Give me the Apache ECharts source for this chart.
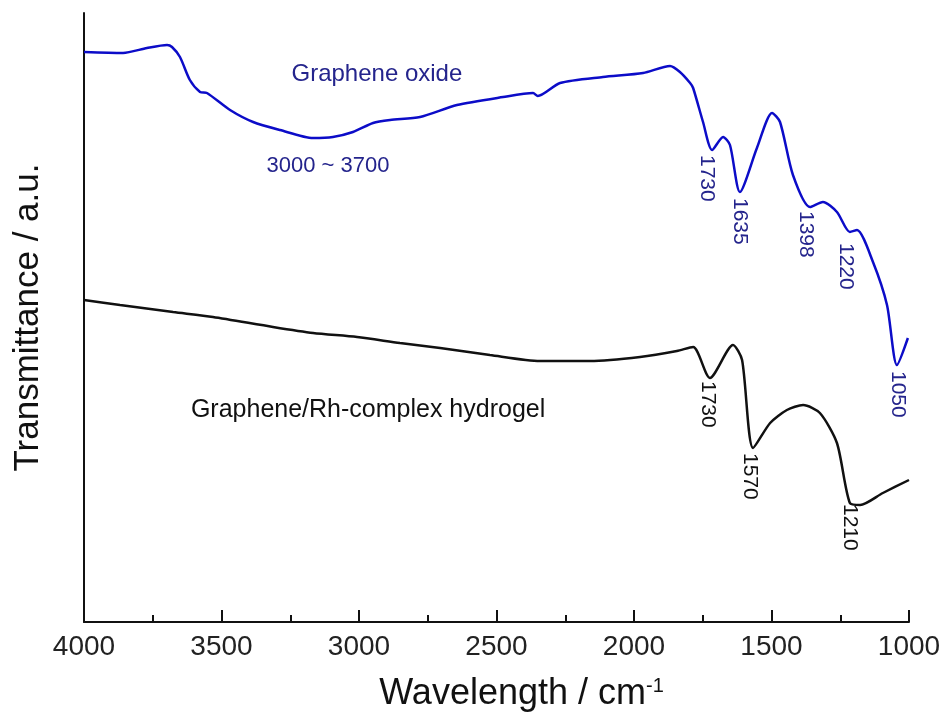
<!DOCTYPE html>
<html>
<head>
<meta charset="utf-8">
<title>FTIR spectra</title>
<script src="https://cdn.jsdelivr.net/npm/echarts@6/dist/echarts.min.js"></script>
<style>
  html, body { margin: 0; padding: 0; background: #fff; }
  #chart { width: 948px; height: 724px; }
</style>
</head>
<body>
<div id="chart"></div>
<script>
// wavenumber (cm-1) and transmittance (a.u.)
const goWavenumber = [4000, 3858, 3771, 3698, 3680, 3651, 3615, 3578, 3553, 3469, 3385, 3287, 3167, 3095, 3022, 2949, 2887, 2778, 2644, 2476, 2367, 2350, 2269, 2113, 1967, 1869, 1833, 1796, 1785, 1749, 1716, 1676, 1651, 1615, 1553, 1498, 1469, 1422, 1360, 1313, 1262, 1215, 1189, 1131, 1080, 1044, 1004];
const goTransmittance = [570, 569, 574, 577, 575, 565, 542, 530, 529, 512, 500, 492, 484, 485, 490, 499, 502, 505, 517, 525, 529, 526, 539, 545, 549, 556, 550, 539, 534, 500, 472, 485, 477, 430, 474, 509, 500, 447, 415, 420, 410, 390, 392, 360, 317, 257, 284];

const gelWavenumber = [4000, 3869, 3676, 3531, 3313, 3167, 3007, 2851, 2705, 2524, 2342, 2160, 1978, 1844, 1785, 1724, 1640, 1607, 1567, 1505, 1444, 1385, 1324, 1262, 1215, 1178, 1095, 1000];
const gelTransmittance = [322, 317, 310, 305, 295, 289, 285, 279, 274, 267, 261, 261, 265, 271, 275, 244, 277, 262, 174, 199, 212, 217, 209, 179, 119, 117, 129, 142];

// peak labels: [wavenumber, transmittance, text]
const goPeaks = [[1737, 467, '1730'], [1617, 424, '1635'], [1377, 411, '1398'], [1231, 379, '1220'], [1042, 251, '1050']];
const gelPeaks = [[1733, 241, '1730'], [1580, 169, '1570'], [1217, 118, '1210']];

const BLUE = '#0c0cc8';
const NAVY = '#24248c';
const FONT = 'Liberation Sans, Arial, Helvetica, sans-serif';

const chart = echarts.init(document.getElementById('chart'));

const toPairs = (xs, ys) => xs.map((x, i) => [x, ys[i]]);

chart.setOption({
  animation: false,
  grid: { left: 84, right: 39, top: 13, bottom: 102 },
  xAxis: {
    type: 'value',
    inverse: true,
    min: 1000,
    max: 4000,
    interval: 500,
    name: '{a|Wavelength / cm}{b|-1}',
    nameLocation: 'middle',
    nameGap: 54,
    nameTextStyle: {
      padding: [0, 0, 0, 50],
      rich: {
        a: { fontSize: 36, fontFamily: FONT, color: '#111' },
        b: { fontSize: 20, fontFamily: FONT, color: '#111', verticalAlign: 'top', padding: [0, 0, 16, 0] }
      }
    },
    axisLine: { lineStyle: { color: '#111', width: 2 } },
    axisTick: { inside: true, length: 12, lineStyle: { color: '#111', width: 2 } },
    minorTick: { show: true, splitNumber: 2, length: 7, lineStyle: { color: '#111', width: 2 } },
    axisLabel: { fontSize: 28, fontFamily: FONT, color: '#222', margin: 11, formatter: v => String(v) },
    splitLine: { show: false }
  },
  yAxis: {
    type: 'value',
    min: 0,
    max: 609,
    name: 'Transmittance / a.u.',
    nameLocation: 'middle',
    nameGap: 38,
    nameTextStyle: { fontSize: 35, fontFamily: FONT, color: '#111' },
    axisLine: { show: true, lineStyle: { color: '#111', width: 2 } },
    axisTick: { show: false },
    axisLabel: { show: false },
    splitLine: { show: false }
  },
  series: [
    {
      name: 'Graphene oxide',
      type: 'line',
      data: toPairs(goWavenumber, goTransmittance),
      smooth: 0.25,
      symbol: 'none',
      lineStyle: { color: BLUE, width: 2.5 }
    },
    {
      name: 'Graphene/Rh-complex hydrogel',
      type: 'line',
      data: toPairs(gelWavenumber, gelTransmittance),
      smooth: 0.25,
      symbol: 'none',
      lineStyle: { color: '#111', width: 2.5 }
    }
  ]
});

// text annotations placed in data coordinates
const at = (w, t) => chart.convertToPixel({ gridIndex: 0 }, [w, t]);

const flatText = (w, t, text, color, size) => {
  const [x, y] = at(w, t);
  return {
    type: 'text', x, y,
    style: { text, fill: color, font: size + 'px ' + FONT, align: 'center', verticalAlign: 'middle' }
  };
};

const peakText = (p, color) => {
  const [x, y] = at(p[0], p[1]);
  return {
    type: 'text', x, y, rotation: -Math.PI / 2,
    style: { text: p[2], fill: color, font: '21px ' + FONT, align: 'left', verticalAlign: 'middle' }
  };
};

chart.setOption({
  graphic: [
    flatText(2935, 548, 'Graphene oxide', NAVY, 24),
    flatText(3113, 456, '3000 ~ 3700', NAVY, 22),
    flatText(2967, 212, 'Graphene/Rh-complex hydrogel', '#111', 25),
    ...goPeaks.map(p => peakText(p, NAVY)),
    ...gelPeaks.map(p => peakText(p, '#111'))
  ]
});
</script>
</body>
</html>
